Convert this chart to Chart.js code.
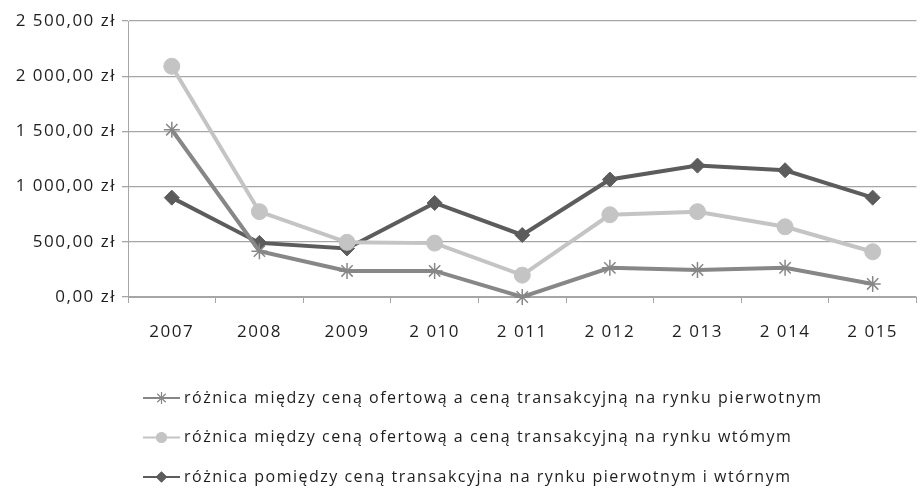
<!DOCTYPE html>
<html>
<head>
<meta charset="utf-8">
<script src="https://cdn.jsdelivr.net/npm/chart.js@4/dist/chart.umd.min.js"></script>
<style>
  html, body { margin: 0; padding: 0; background: #fff; overflow: hidden; }
  #wrap { position: relative; width: 926px; height: 489px; }
</style>
</head>
<body>
<div id="wrap"><canvas id="c"></canvas></div>
<script>
const years = ['2007', '2008', '2009', '2 010', '2 011', '2 012', '2 013', '2 014', '2 015'];
const seriesNames = [
  'różnica między ceną ofertową a ceną transakcyjną na rynku pierwotnym',
  'różnica między ceną ofertową a ceną transakcyjną na rynku wtómym',
  'różnica pomiędzy ceną transakcyjna na rynku pierwotnym i wtórnym'
];
const primaryDiff = [1515, 415, 236, 236, 0, 264, 245, 264, 118];
const secondaryDiff = [2090, 773, 495, 488, 198, 745, 773, 636, 410];
const marketDiff = [900, 490, 440, 852, 562, 1064, 1190, 1148, 900];
const yTicks = [0, 500, 1000, 1500, 2000, 2500];

const FONT = "'Open Sans', 'Liberation Sans', sans-serif";
const SPACING = '1.5px';

function fmtZl(v) {
  const whole = Math.floor(v);
  let s = String(whole);
  if (whole >= 1000) s = s.slice(0, s.length - 3) + ' ' + s.slice(-3);
  return s + ',00 zł';
}

const styles = [
  { color: '#878787', point: 'star', radius: 8 },
  { color: '#c4c4c4', point: 'circle', radius: 8 },
  { color: '#5c5c5c', point: 'rectRot', radius: 7.5 }
];
const values = [primaryDiff, secondaryDiff, marketDiff];

const datasets = values.map((vals, i) => ({
  label: seriesNames[i],
  data: vals,
  borderColor: styles[i].color,
  backgroundColor: styles[i].color,
  pointBackgroundColor: styles[i].color,
  pointBorderColor: styles[i].color,
  pointStyle: styles[i].point,
  pointRadius: styles[i].radius,
  pointBorderWidth: styles[i].point === 'star' ? 1.5 : 1,
  borderWidth: 4,
  tension: 0,
  clip: false
}));

const spacingPlugin = {
  id: 'spacing',
  beforeDraw(chart) { chart.ctx.letterSpacing = SPACING; }
};

const legendPlugin = {
  id: 'vlegend',
  afterDraw(chart) {
    const ctx = chart.ctx;
    ctx.save();
    chart.data.datasets.forEach((ds, i) => {
      const y = 398 + i * 39.5;
      ctx.strokeStyle = ds.borderColor;
      ctx.lineWidth = 2;
      ctx.beginPath();
      ctx.moveTo(143, y);
      ctx.lineTo(180, y);
      ctx.stroke();
      ctx.fillStyle = ds.borderColor;
      ctx.lineWidth = 1.2;
      const opts = { pointStyle: ds.pointStyle, radius: ds.pointStyle === 'star' ? 6 : 5, borderWidth: 1.2, rotation: 0 };
      Chart.helpers.drawPoint(ctx, opts, 161.5, y);
      if (ds.pointStyle !== 'star') ctx.fill();
      ctx.fillStyle = '#1e1e1e';
      ctx.letterSpacing = SPACING;
      ctx.font = '16px ' + FONT;
      ctx.textBaseline = 'middle';
      ctx.textAlign = 'left';
      ctx.fillText(ds.label, 184, y);
    });
    ctx.restore();
  }
};

new Chart(document.getElementById('c'), {
  type: 'line',
  data: { labels: years, datasets },
  plugins: [spacingPlugin, legendPlugin],
  options: {
    responsive: true,
    maintainAspectRatio: false,
    animation: false,
    layout: { padding: { top: 21, right: 0, bottom: 142, left: 0 } },
    plugins: { legend: { display: false }, tooltip: { enabled: false } },
    scales: {
      x: {
        offset: true,
        grid: { display: true, drawOnChartArea: false, drawTicks: true, tickLength: 6, color: '#a6a6a6', offset: true },
        border: { color: '#a6a6a6', width: 1 },
        ticks: { color: '#1e1e1e', font: { family: FONT, size: 17 }, padding: 19, maxRotation: 0 },
        afterFit(s) { s.height = 50; }
      },
      y: {
        min: 0, max: 2500,
        afterBuildTicks(s) { s.ticks = yTicks.map(v => ({ value: v })); },
        grid: { color: '#a6a6a6', lineWidth: 1.3, tickLength: 6 },
        border: { color: '#a6a6a6', width: 1 },
        ticks: { color: '#1e1e1e', font: { family: FONT, size: 17 }, padding: 6, callback: v => fmtZl(v) },
        afterFit(s) { s.width = 128; }
      }
    }
  }
});
</script>
</body>
</html>
